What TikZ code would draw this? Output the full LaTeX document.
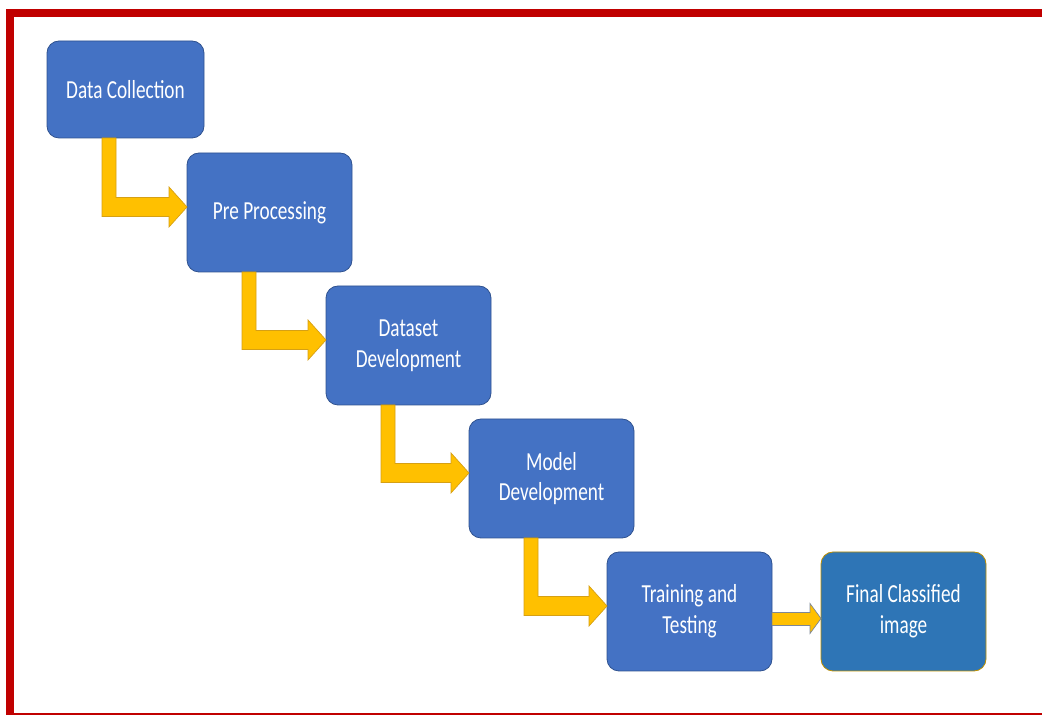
\documentclass[tikz,border=0pt]{standalone}
\usepackage{fontspec}
\setmainfont{Carlito}[FakeStretch=0.74]
\usepackage{xcolor}
\definecolor{sblue}{RGB}{68,114,196}
\definecolor{sedge}{RGB}{47,82,143}
\definecolor{fblue}{RGB}{46,117,182}
\definecolor{fedge}{RGB}{191,144,0}
\definecolor{ayel}{RGB}{255,192,0}
\definecolor{aedge}{RGB}{214,160,20}
\definecolor{agrey}{RGB}{125,135,150}
\definecolor{rframe}{RGB}{192,0,0}
\usepackage{tikz}
\usetikzlibrary{positioning,calc}

% bent block arrow: down out of #1, right into #2
\newcommand{\bentarrow}[2]{%
  \draw[barrow] let \p1=(#1.south west), \p2=(#2.north west) in
    (\x1+55pt,\y1) -- (\x1+69pt,\y1) -- (\x1+69pt,\y2-44.5pt) -- (\x2-18pt,\y2-44.5pt)
    -- (\x2-18pt,\y2-34pt) -- (\x2,\y2-54pt) -- (\x2-18pt,\y2-74pt)
    -- (\x2-18pt,\y2-63.5pt) -- (\x1+55pt,\y2-63.5pt) -- cycle;}

\begin{document}
\begin{tikzpicture}[
  x=1pt,y=1pt,
  sbox/.style={rectangle,draw=sedge,line width=0.8pt,rounded corners=12pt,fill=sblue,text=white,minimum width=165pt,minimum height=119pt,align=center,inner sep=0pt,outer sep=0pt,font=\fontsize{26}{30.7}\selectfont},
  lastbox/.style={sbox,draw=fedge,fill=fblue},
  barrow/.style={fill=ayel,draw=aedge,line width=0.7pt},
  farrow/.style={fill=ayel,draw=agrey,line width=0.7pt}
]
  \useasboundingbox (0,0) rectangle (1042,715);

  % Frame
  \fill[rframe] (6,698) rectangle (1042,706);
  \fill[rframe] (6,1) rectangle (14,706);
  \draw[rframe,line width=1.5pt] (6,1) -- (1042,1);

  % Steps
  \node[sbox,minimum width=157pt,minimum height=97pt] (dc) at (125.5,625.5) {Data Collection};
  \node[sbox,below right=15pt and -17pt of dc] (pp) {Pre Processing};
  \node[sbox,below right=14pt and -26pt of pp] (ds) {Dataset\\Development};
  \node[sbox,below right=14pt and -22pt of ds] (md) {Model\\Development};
  \node[sbox,below right=14pt and -27pt of md] (tt) {Training and\\Testing};
  \node[lastbox,right=49pt of tt] (fc) {Final Classified\\image};

  % Arrows
  \bentarrow{dc}{pp}
  \bentarrow{pp}{ds}
  \bentarrow{ds}{md}
  \bentarrow{md}{tt}
  \draw[farrow] let \p1=(tt.east), \p2=(fc.west) in
    (\x1,\y1-1pt) -- (\x2-11pt,\y1-1pt) -- (\x2-11pt,\y1+8pt) -- (\x2,\y1-7pt)
    -- (\x2-11pt,\y1-22pt) -- (\x2-11pt,\y1-14pt) -- (\x1,\y1-14pt) -- cycle;
\end{tikzpicture}
\end{document}
